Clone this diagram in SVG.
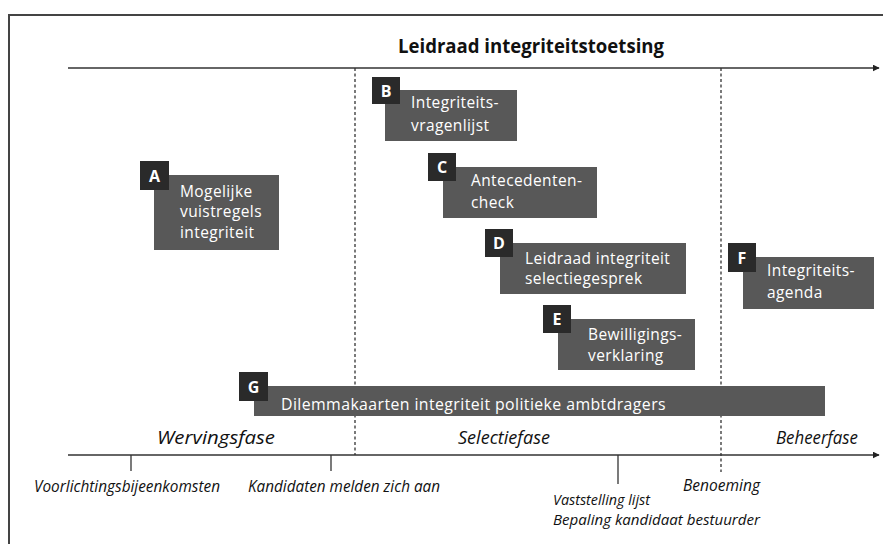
<svg xmlns="http://www.w3.org/2000/svg" width="883" height="544" viewBox="0 0 883 544">
<style>
.box{fill:#585858}
.let{fill:#2a2a2a}
.lt{font-family:"Open Sans","Noto Sans",sans-serif;font-weight:700;font-size:16px;fill:#fff;text-anchor:middle}
.bt{font-family:"Open Sans","Noto Sans",sans-serif;font-size:15.5px;fill:#fff;letter-spacing:0.4px}
.ax{stroke:#333;stroke-width:1.6;fill:none}
.dash{stroke:#333;stroke-width:1.3;stroke-dasharray:3,2.5;fill:none}
.tick{stroke:#333;stroke-width:1.3}
.ph{font-family:"Open Sans","Noto Sans",sans-serif;font-style:italic;font-size:19px;fill:#111}
.ev{font-family:"Open Sans","Noto Sans",sans-serif;font-style:italic;font-size:16px;fill:#111}
.ev2{font-family:"Open Sans","Noto Sans",sans-serif;font-style:italic;font-size:14px;fill:#111}
.title{font-family:"Open Sans","Noto Sans",sans-serif;font-weight:700;font-size:20px;fill:#111}
</style>
<defs>
<marker id="arr" viewBox="0 0 10 10" refX="9" refY="5" markerWidth="7" markerHeight="7" markerUnits="userSpaceOnUse" orient="auto">
<path d="M0,0 L10,5 L0,10 z" fill="#222"/>
</marker>
</defs>
<rect x="0" y="0" width="883" height="544" fill="#fff"/>
<path d="M9,544 V15 H883" stroke="#444" stroke-width="2" fill="none"/>
<text class="title" x="398" y="53" textLength="266" lengthAdjust="spacingAndGlyphs">Leidraad integriteitstoetsing</text>

<g id="connectors">
<line class="ax" x1="68" y1="68" x2="879" y2="68" marker-end="url(#arr)"/>
<line class="ax" x1="68" y1="455" x2="879" y2="455" marker-end="url(#arr)"/>
<line class="dash" x1="355" y1="68" x2="355" y2="455"/>
<line class="dash" x1="721" y1="68" x2="721" y2="472"/>
<line class="tick" x1="131" y1="455" x2="131" y2="471"/>
<line class="tick" x1="331" y1="455" x2="331" y2="471"/>
<line class="tick" x1="618" y1="455" x2="618" y2="484"/>
</g>

<g id="A">
<rect class="box" x="154" y="175" width="125" height="75"/>
<rect class="let" x="140" y="161" width="29" height="29"/>
<text class="lt" x="154.5" y="182">A</text>
<text class="bt" x="180" y="197">Mogelijke</text>
<text class="bt" x="180" y="217">vuistregels</text>
<text class="bt" x="180" y="238">integriteit</text>
</g>

<g id="B">
<rect class="box" x="385" y="90" width="132" height="51"/>
<rect class="let" x="372" y="77" width="28" height="27"/>
<text class="lt" x="386" y="97">B</text>
<text class="bt" x="411" y="108">Integriteits-</text>
<text class="bt" x="411" y="131">vragenlijst</text>
</g>

<g id="C">
<rect class="box" x="443" y="167" width="154" height="51"/>
<rect class="let" x="428" y="153" width="28" height="28"/>
<text class="lt" x="442" y="173">C</text>
<text class="bt" x="471" y="186">Antecedenten-</text>
<text class="bt" x="471" y="208">check</text>
</g>

<g id="D">
<rect class="box" x="500" y="243" width="186" height="51"/>
<rect class="let" x="485" y="229" width="28" height="28"/>
<text class="lt" x="499" y="249">D</text>
<text class="bt" x="525" y="264">Leidraad integriteit</text>
<text class="bt" x="525" y="284">selectiegesprek</text>
</g>

<g id="E">
<rect class="box" x="558" y="319" width="137" height="51"/>
<rect class="let" x="543" y="305" width="28" height="28"/>
<text class="lt" x="557" y="325">E</text>
<text class="bt" x="588" y="340">Bewilligings-</text>
<text class="bt" x="588" y="361">verklaring</text>
</g>

<g id="F">
<rect class="box" x="743" y="257" width="131" height="52"/>
<rect class="let" x="728" y="243" width="28" height="29"/>
<text class="lt" x="742" y="264">F</text>
<text class="bt" x="767" y="276">Integriteits-</text>
<text class="bt" x="767" y="298">agenda</text>
</g>

<g id="G">
<rect class="box" x="254" y="386" width="571" height="30"/>
<rect class="let" x="239" y="372" width="29" height="29"/>
<text class="lt" x="253.5" y="393">G</text>
<text class="bt" x="281" y="410" textLength="385" lengthAdjust="spacingAndGlyphs">Dilemmakaarten integriteit politieke ambtdragers</text>
</g>

<g id="phases">
<text class="ph" x="157" y="444" textLength="118" lengthAdjust="spacingAndGlyphs">Wervingsfase</text>
<text class="ph" x="458" y="444" textLength="92" lengthAdjust="spacingAndGlyphs">Selectiefase</text>
<text class="ph" x="776" y="444" textLength="82" lengthAdjust="spacingAndGlyphs">Beheerfase</text>
</g>

<g id="events">
<text class="ev" x="34" y="492" textLength="186" lengthAdjust="spacingAndGlyphs">Voorlichtingsbijeenkomsten</text>
<text class="ev" x="248" y="492" textLength="192" lengthAdjust="spacingAndGlyphs">Kandidaten melden zich aan</text>
<text class="ev" x="683" y="491" textLength="77" lengthAdjust="spacingAndGlyphs">Benoeming</text>
<text class="ev2" x="553" y="505" textLength="97" lengthAdjust="spacingAndGlyphs">Vaststelling lijst</text>
<text class="ev2" x="553" y="525" textLength="207" lengthAdjust="spacingAndGlyphs">Bepaling kandidaat bestuurder</text>
</g>
</svg>
